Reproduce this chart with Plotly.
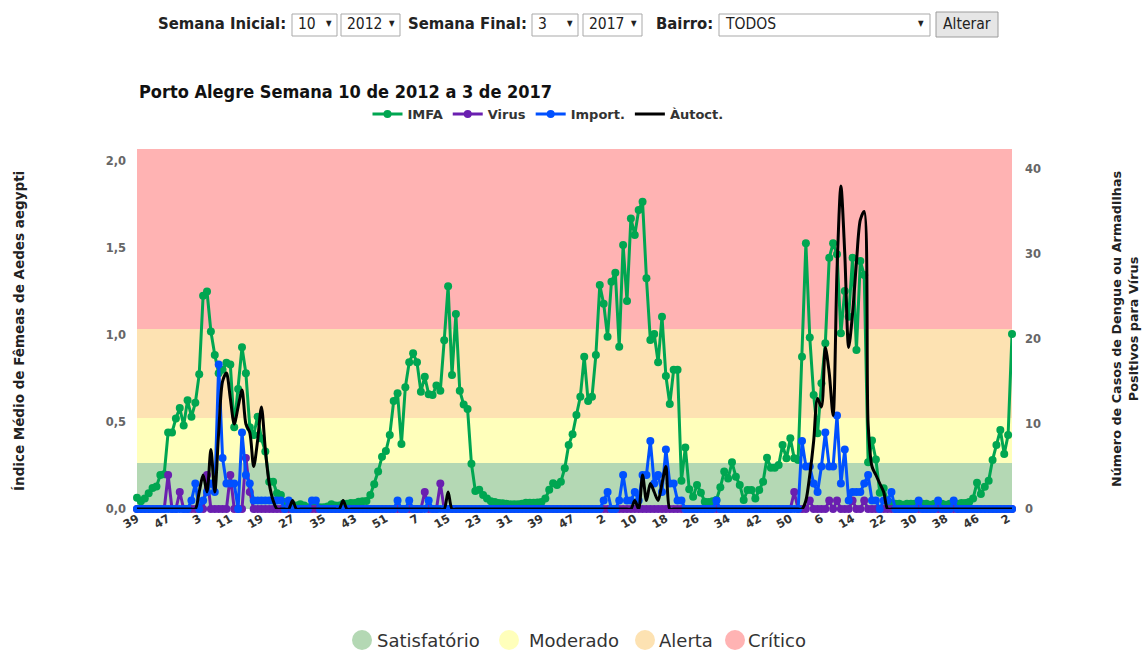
import plotly.graph_objects as go

# ---------------- data ----------------
YEAR_SPANS = [(2012, 39, 52), (2013, 1, 52), (2014, 1, 53), (2015, 1, 52), (2016, 1, 52), (2017, 1, 3)]
WEEKS = [(y, w) for (y, a, b) in YEAR_SPANS for w in range(a, b + 1)]
CATEGORIES = [f"{w}/{y}" for (y, w) in WEEKS]
TICK_LABELS = [str(w) for (y, w) in WEEKS]

IMFA = [
    0.065, 0.045, 0.06, 0.09, 0.12, 0.13, 0.195, 0.20, 0.44, 0.44,
    0.52, 0.58, 0.48, 0.625, 0.53, 0.61, 0.775, 1.225, 1.25, 1.02,
    0.885, 0.78, 0.80, 0.84, 0.83, 0.47, 0.69, 0.93, 0.78, 0.47,
    0.425, 0.53, 0.405, 0.33, 0.157, 0.157, 0.09, 0.08, 0.04, 0.03,
    0.02, 0.02, 0.027, 0.02, 0.01, 0.01, 0.01, 0.01, 0.01, 0.015,
    0.027, 0.02, 0.02, 0.03, 0.03, 0.035, 0.035, 0.042, 0.044, 0.046,
    0.08, 0.142, 0.215, 0.30, 0.333, 0.425, 0.62, 0.665, 0.373, 0.70,
    0.843, 0.895, 0.843, 0.674, 0.76, 0.66, 0.655, 0.71, 0.68, 0.97,
    1.28, 0.77, 1.12, 0.68, 0.60, 0.575, 0.26, 0.103, 0.11, 0.08,
    0.06, 0.045, 0.04, 0.035, 0.033, 0.03, 0.027, 0.027, 0.027, 0.03,
    0.036, 0.036, 0.036, 0.038, 0.04, 0.06, 0.11, 0.148, 0.138, 0.157,
    0.234, 0.368, 0.43, 0.54, 0.645, 0.875, 0.62, 0.645, 0.885, 1.287,
    1.18, 0.99, 1.306, 1.358, 0.933, 1.517, 1.195, 1.67, 1.575, 1.718,
    1.766, 1.326, 0.971, 1.006, 0.843, 1.105, 0.764, 0.603, 0.80, 0.80,
    0.163, 0.354, 0.113, 0.071, 0.138, 0.094, 0.042, 0.04, 0.045, 0.052,
    0.125, 0.215, 0.176, 0.268, 0.186, 0.138, 0.052, 0.109, 0.109, 0.061,
    0.109, 0.157, 0.295, 0.237, 0.237, 0.253, 0.368, 0.291, 0.406, 0.291,
    0.282, 0.875, 1.527, 0.985, 0.655, 0.435, 0.722, 0.952, 1.444, 1.527,
    1.464, 1.01, 1.253, 1.105, 1.444, 0.914, 1.425, 1.345, 0.268, 0.393,
    0.285, 0.094, 0.119, 0.045, 0.035, 0.03, 0.03, 0.025, 0.03, 0.03,
    0.03, 0.025, 0.03, 0.03, 0.025, 0.03, 0.03, 0.03, 0.025, 0.03,
    0.03, 0.03, 0.035, 0.035, 0.04, 0.061, 0.151, 0.086, 0.128, 0.163,
    0.282, 0.368, 0.454, 0.316, 0.425, 1.006,
]

VIRUS = [
    0, 0, 0, 0, 0, 0, 0, 0, 4, 0,
    0, 2, 0, 0, 0, 0, 0, 0, 4, 0,
    0, 0, 0, 0, 4, 0, 0, 0, 6, 2,
    0, 0, 0, 0, 0, 0, 0, 0, 0, 0,
    0, 0, 0, 0, 0, 0, 0, 0, 0, 0,
    0, 0, 0, 0, 0, 0, 0, 0, 0, 0,
    0, 0, 0, 0, 0, 0, 0, 0, 0, 0,
    0, 0, 0, 0, 2, 0, 0, 0, 3, 0,
    0, 0, 0, 0, 0, 0, 0, 0, 0, 0,
    0, 0, 0, 0, 0, 0, 0, 0, 0, 0,
    0, 0, 0, 0, 0, 0, 0, 0, 0, 0,
    0, 0, 0, 0, 0, 0, 0, 0, 0, 0,
    0, 0, 0, 0, 0, 0, 0, 0, 0, 0,
    0, 0, 0, 0, 0, 0, 0, 0, 0, 0,
    0, 0, 0, 0, 0, 0, 0, 0, 0, 0,
    0, 0, 0, 0, 0, 0, 0, 0, 0, 0,
    0, 0, 0, 0, 0, 0, 0, 0, 0, 2,
    0, 0, 0, 1, 0, 0, 0, 0, 1, 0,
    1, 0, 0, 0, 1, 0, 0, 1, 0, 0,
    0, 0, 0, 0, 0, 0, 0, 0, 0, 0,
    0, 0, 0, 0, 0, 0, 0, 0, 0, 0,
    0, 0, 0, 0, 0, 0, 0, 0, 0, 0,
    0, 0, 0, 0, 0, 0,
]

IMPORT = [
    0, 0, 0, 0, 0, 0, 0, 0, 0, 0,
    0, 0, 0, 0, 1, 3, 0, 1, 2, 3,
    2, 17, 6, 3, 3, 3, 0, 9, 4, 3,
    1, 1, 1, 1, 1, 1, 1, 1, 0, 1,
    0, 0, 0, 0, 0, 1, 1, 0, 0, 0,
    0, 0, 0, 0, 0, 0, 0, 0, 0, 0,
    0, 0, 0, 0, 0, 0, 0, 1, 0, 0,
    1, 0, 0, 0, 0, 1, 0, 0, 0, 0,
    0, 0, 0, 0, 0, 0, 0, 0, 0, 0,
    0, 0, 0, 0, 0, 0, 0, 0, 0, 0,
    0, 0, 0, 0, 0, 0, 0, 0, 0, 0,
    0, 0, 0, 0, 0, 0, 0, 0, 0, 0,
    1, 2, 0, 0, 1, 4, 1, 1, 2, 1,
    4, 4, 8, 3, 4, 2, 7, 3, 3, 1,
    1, 0, 0, 0, 0, 0, 0, 0, 0, 1,
    0, 0, 0, 0, 0, 0, 0, 0, 0, 0,
    0, 0, 0, 0, 0, 0, 0, 0, 0, 0,
    0, 8, 5, 5, 3, 2, 5, 9, 5, 5,
    11, 3, 7, 1, 2, 2, 2, 3, 4, 1,
    1, 0, 1, 1, 2, 0, 0, 0, 0, 0,
    0, 1, 0, 0, 0, 0, 1, 0, 0, 0,
    1, 0, 0, 0, 0, 0, 0, 0, 0, 0,
    0, 0, 0, 0, 0, 0,
]

AUTOCT = [
    0, 0, 0, 0, 0, 0, 0, 0, 0, 0,
    0, 0, 0, 0, 0, 0, 2, 4, 2, 7,
    2, 9, 15, 16, 13, 10, 12, 14, 10, 9,
    5, 8, 12, 7, 3, 1, 0, 0, 0, 0,
    1, 0, 0, 0, 0, 0, 0, 0, 0, 0,
    0, 0, 0, 1, 0, 0, 0, 0, 0, 0,
    0, 0, 0, 0, 0, 0, 0, 0, 0, 0,
    0, 0, 0, 0, 0, 0, 0, 0, 0, 0,
    2, 0, 0, 0, 0, 0, 0, 0, 0, 0,
    0, 0, 0, 0, 0, 0, 0, 0, 0, 0,
    0, 0, 0, 0, 0, 0, 0, 0, 0, 0,
    0, 0, 0, 0, 0, 0, 0, 0, 0, 0,
    0, 0, 0, 0, 0, 0, 0, 0, 1, 0,
    4, 1, 3, 2, 1, 3, 5, 0, 0, 0,
    0, 0, 0, 0, 0, 0, 0, 0, 0, 0,
    0, 0, 0, 0, 0, 0, 0, 0, 0, 0,
    0, 0, 0, 0, 0, 0, 0, 0, 0, 0,
    0, 0, 1, 4, 8, 13, 12, 19, 16, 11,
    28, 38, 30, 19, 23, 29, 34, 35, 10, 5,
    4, 3, 2, 0, 0, 0, 0, 0, 0, 0,
    0, 0, 0, 0, 0, 0, 0, 0, 0, 0,
    0, 0, 0, 0, 0, 0, 0, 0, 0, 0,
    0, 0, 0, 0, 0, 0,
]

BAND_EDGES = [0.0, 0.264, 0.523, 1.034, 2.069]
BAND_COLORS = ["#b4d8b4", "#ffffbb", "#fde2b2", "#ffb3b3"]
BAND_NAMES = ["Satisfatório", "Moderado", "Alerta", "Crítico"]

# ---------------- layout helpers ----------------
W, H = 1143, 650
PL, PR, PT, PB = 137, 1012, 149, 509


def px(x):
    return (x - PL) / (PR - PL)


def py(y):
    return (PB - y) / (PB - PT)


FONT = "DejaVu Sans"
CFONT = "DejaVu Sans Condensed, Liberation Sans, Arial"

fig = go.Figure()

series = [
    ("IMFA", IMFA, "#00a651", "y"),
    ("Virus", VIRUS, "#6a1fb0", "y2"),
    ("Import.", IMPORT, "#0050ff", "y2"),
]
for name, vals, col, yax in series:
    fig.add_trace(go.Scatter(
        x=CATEGORIES, y=vals, name=name, yaxis=yax,
        mode="lines+markers",
        line=dict(color=col, width=3),
        marker=dict(color=col, size=8),
        cliponaxis=False,
    ))
fig.add_trace(go.Scatter(
    x=CATEGORIES, y=AUTOCT, name="Àutoct.", yaxis="y2",
    mode="lines", line=dict(color="#000000", width=3, shape="spline", smoothing=0.8),
    cliponaxis=False,
))

shapes = []
for i, c in enumerate(BAND_COLORS):
    shapes.append(dict(type="rect", xref="paper", yref="y", x0=0, x1=1,
                       y0=BAND_EDGES[i], y1=BAND_EDGES[i + 1],
                       fillcolor=c, line=dict(width=0), layer="below"))

annotations = []


def label(text, xr, yc=24, size=16.5, bold=True, anchor="right", color="#222"):
    annotations.append(dict(text=text, xref="paper", yref="paper", x=px(xr), y=py(yc),
                            xanchor=anchor, yanchor="middle", showarrow=False,
                            font=dict(family=CFONT, size=size, color=color,
                                      weight="bold" if bold else "normal")))


def box(x0, x1, y0=14, y1=36, fill="#ffffff", line="#a9a9a9"):
    shapes.append(dict(type="rect", xref="paper", yref="paper",
                       x0=px(x0), x1=px(x1), y0=py(y1), y1=py(y0),
                       fillcolor=fill, line=dict(color=line, width=1)))


# --- top form controls ---
label("Semana Inicial:", 288)
box(292, 337)
label("10", 296, size=15.5, bold=False, anchor="left")
label("▼", 334, size=8, bold=False)
box(341, 400)
label("2012", 345, size=15.5, bold=False, anchor="left")
label("▼", 397, size=8, bold=False)
label("Semana Final:", 529)
box(532, 578)
label("3", 536, size=15.5, bold=False, anchor="left")
label("▼", 575, size=8, bold=False)
box(583, 642)
label("2017", 587, size=15.5, bold=False, anchor="left")
label("▼", 639, size=8, bold=False)
label("Bairro:", 715)
box(719, 930)
label("TODOS", 723, size=15.5, bold=False, anchor="left")
label("▼", 926, size=8, bold=False)
box(936, 998, 12, 37, fill="#e6e6e6", line="#9c9c9c")
label("Alterar", 967, size=15.5, bold=False, anchor="center")

# --- title ---
annotations.append(dict(text="Porto Alegre Semana 10 de 2012 a 3 de 2017", xref="paper", yref="paper",
                        x=px(137), y=py(92), xanchor="left", yanchor="middle", showarrow=False,
                        font=dict(family=CFONT, size=18, color="#111", weight="bold")))

# --- axis titles ---
annotations.append(dict(text="Índice Médio de Fêmeas de Aedes aegypti", xref="paper", yref="paper",
                        x=px(19), y=py(331), xanchor="center", yanchor="middle", showarrow=False,
                        textangle=-90, font=dict(family=FONT, size=13.5, color="#222", weight="bold")))
annotations.append(dict(text="Número de Casos de Dengue ou Armadilhas<br>Positivos para Vírus",
                        xref="paper", yref="paper",
                        x=px(1125), y=py(329), xanchor="center", yanchor="middle", showarrow=False,
                        textangle=-90, font=dict(family=FONT, size=12.8, color="#222", weight="bold")))

# --- bottom band legend ---
circle_cx = [362, 509, 645, 735]
text_x = [375, 527, 657, 746]
r = 10
for cx, tx, col, nm in zip(circle_cx, text_x, BAND_COLORS, BAND_NAMES):
    shapes.append(dict(type="circle", xref="paper", yref="paper",
                       x0=px(cx - r), x1=px(cx + r), y0=py(640 + r), y1=py(640 - r),
                       fillcolor=col, line=dict(width=0)))
    annotations.append(dict(text=nm, xref="paper", yref="paper", x=px(tx), y=py(640),
                            xanchor="left", yanchor="middle", showarrow=False,
                            font=dict(family=FONT, size=18, color="#333")))

fig.update_layout(
    width=W, height=H,
    margin=dict(l=PL, r=W - PR, t=PT, b=H - PB, pad=0),
    paper_bgcolor="white", plot_bgcolor="white",
    separators=",.",
    showlegend=True,
    legend=dict(orientation="h", x=px(548), y=py(114), xanchor="center", yanchor="middle",
                font=dict(family=FONT, size=13, color="#333", weight="bold"),
                bgcolor="rgba(0,0,0,0)", itemwidth=30, tracegroupgap=0),
    xaxis=dict(type="category", range=[0, len(CATEGORIES) - 1],
               tickmode="array", tickvals=CATEGORIES[::8], ticktext=TICK_LABELS[::8],
               tickangle=-30, showgrid=False, zeroline=False, showline=False, ticks="",
               tickfont=dict(family=FONT, size=11.5, color="#333", weight="bold")),
    yaxis=dict(range=[0, BAND_EDGES[-1]], tickmode="array", tickvals=[0, 0.5, 1.0, 1.5, 2.0],
               tickformat=".1f", showgrid=False, zeroline=False, showline=False, ticks="",
               ticklabelstandoff=10,
               tickfont=dict(family=FONT, size=11.5, color="#666", weight="bold")),
    yaxis2=dict(range=[0, 42.35], overlaying="y", side="right", tickmode="array",
                tickvals=[0, 10, 20, 30, 40], showgrid=False, zeroline=False, showline=False,
                ticks="", ticklabelstandoff=12,
                tickfont=dict(family=FONT, size=11.5, color="#666", weight="bold")),
    shapes=shapes,
    annotations=annotations,
)

fig.write_html("out.html", config={"displayModeBar": False},
               post_script="document.body.style.margin='0';document.body.style.overflow='hidden';")
